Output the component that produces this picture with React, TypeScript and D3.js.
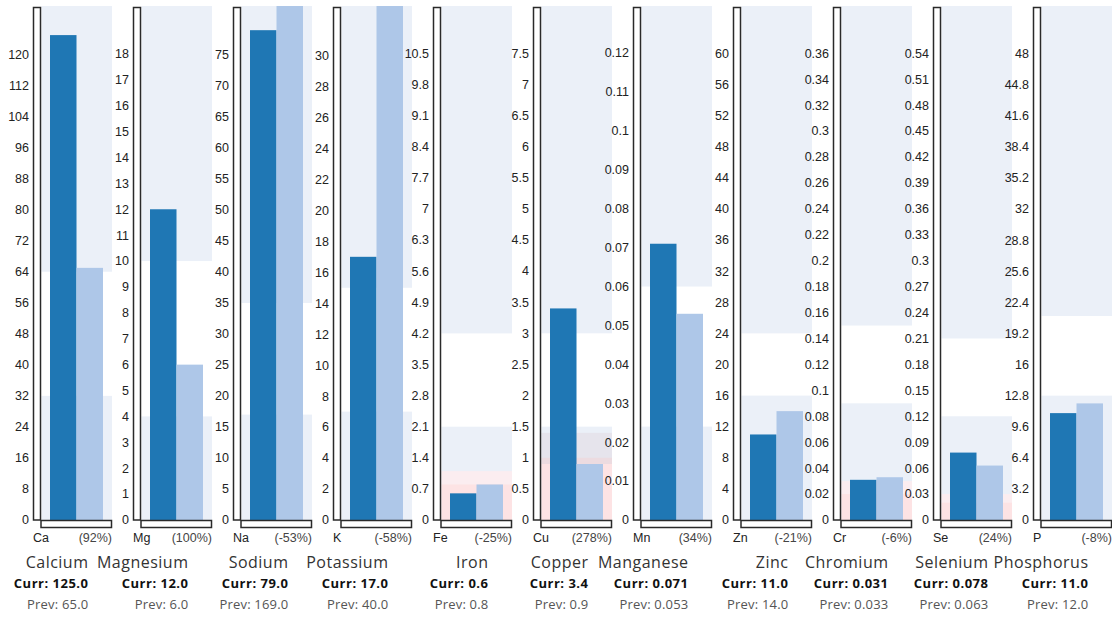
import React from "react";
import * as d3 from "d3";

const symbols = ["Ca", "Mg", "Na", "K", "Fe", "Cu", "Mn", "Zn", "Cr", "Se", "P"];
const names = ["Calcium", "Magnesium", "Sodium", "Potassium", "Iron", "Copper", "Manganese", "Zinc", "Chromium", "Selenium", "Phosphorus"];
const currValues = [125, 12, 79, 17, 0.6, 3.4, 0.071, 11, 0.031, 0.078, 11];
const prevValues = [65, 6, 169, 40, 0.8, 0.9, 0.053, 14, 0.033, 0.063, 12];
const domainMax = [132.5, 19.85, 82.9, 33.2, 11.57, 8.26, 0.1321, 66.1, 0.3965, 0.5947, 52.9];
const tickSteps = [8, 1, 5, 2, 0.7, 0.5, 0.01, 4, 0.02, 0.03, 3.2];
const tickCounts = [15, 18, 15, 15, 15, 15, 12, 15, 18, 18, 15];
const refLow = [32, 4, 17, 7, 2.1, 1.5, 0.024, 16, 0.09, 0.12, 12.8];
const refHigh = [64, 10, 35, 15, 4.2, 3.0, 0.06, 24, 0.15, 0.21, 21];
const grayBand = [0, 0, 0, 0, 0, 1.4, 0, 0, 0, 0, 0];
const lightPinkBand = [0, 0, 0, 0, 1.1, 0, 0, 0, 0.03, 0.03, 0];
const mauveBand = [0, 0, 0, 0, 0, 1.0, 0, 0, 0, 0, 0];
const pinkBand = [0, 0, 0, 0, 0.8, 0.9, 0, 0, 0.02, 0.02, 0];

const PANEL_W = 100;
const TOP = 6;
const ZERO = 520;
const PLOT_L = 41;
const PLOT_R = 112;

const COLORS = {
  range: "#ebf0f8",
  gray: "#e6e4ec",
  lightPink: "#fbedf0",
  mauve: "#ecdbe0",
  pink: "#fde3e4",
  curr: "#1f77b4",
  prev: "#aec7e8",
};

const fmtVal = (v: number) => (v < 0.1 ? v.toFixed(3) : v.toFixed(1));
const fmtTick = (v: number) => String(+v.toFixed(4));

function Panel({ i }: { i: number }) {
  const ox = i * PANEL_W;
  const y = d3.scaleLinear().domain([0, domainMax[i]]).range([ZERO, TOP]);
  const x = d3
    .scaleBand<string>()
    .domain(["curr", "prev"])
    .range([PLOT_L + ox, PLOT_R + ox])
    .paddingInner(0)
    .paddingOuter(0.34);
  const ticks = d3.range(tickCounts[i] + 1).map((k) => k * tickSteps[i]);
  const yc = (v: number) => Math.max(TOP, y(v));
  const raw = ((currValues[i] - prevValues[i]) / prevValues[i]) * 100;
  const pct = Math.sign(raw) * Math.round(Math.abs(raw) + 1e-9);
  const bandL = PLOT_L + ox + 0.5;
  const bandW = PLOT_R - PLOT_L - 0.5;
  const lowBand = (v: number, color: string) =>
    v > 0 ? <rect x={bandL} y={y(v)} width={bandW} height={ZERO - y(v)} fill={color} /> : null;
  return (
    <g>
      <rect x={bandL} y={TOP} width={bandW} height={yc(refHigh[i]) - TOP} fill={COLORS.range} />
      {lowBand(refLow[i], COLORS.range)}
      {lowBand(grayBand[i], COLORS.gray)}
      {lowBand(lightPinkBand[i], COLORS.lightPink)}
      {lowBand(mauveBand[i], COLORS.mauve)}
      {lowBand(pinkBand[i], COLORS.pink)}
      <rect x={x("curr")} y={yc(currValues[i])} width={x.bandwidth()} height={ZERO - yc(currValues[i])} fill={COLORS.curr} />
      <rect x={x("prev")} y={yc(prevValues[i])} width={x.bandwidth()} height={ZERO - yc(prevValues[i])} fill={COLORS.prev} />
      <rect x={33.5 + ox} y={7.5} width={7} height={ZERO - 7.5} fill="#fff" stroke="#2a2a2a" strokeWidth={1.5} />
      <rect x={41 + ox} y={ZERO + 0.5} width={PLOT_R - PLOT_L - 0.5} height={7} fill="#fff" stroke="#2a2a2a" strokeWidth={1.5} />
      {ticks.map((t, k) => (
        <text
          key={k}
          x={29 + ox}
          y={y(t)}
          dy="0.35em"
          textAnchor="end"
          fontFamily="'Liberation Sans', Arial, sans-serif"
          fontSize={12.5}
          fill="#222"
        >
          {fmtTick(t)}
        </text>
      ))}
      <text x={33 + ox} y={542} fontFamily="'Liberation Sans', Arial, sans-serif" fontSize={12.5} fill="#222">
        {symbols[i]}
      </text>
      <text x={112 + ox} y={542} textAnchor="end" fontFamily="'Liberation Sans', Arial, sans-serif" fontSize={12.5} fill="#444">
        {`(${pct}%)`}
      </text>
      <text x={88.5 + ox} y={567.5} textAnchor="end" fontFamily="'Open Sans', sans-serif" fontSize={16} letterSpacing={0.5} fill="#333">
        {names[i]}
      </text>
      <text x={88.5 + ox} y={587.5} textAnchor="end" fontFamily="'Open Sans', sans-serif" fontSize={13} letterSpacing={0.5} fontWeight="bold" fill="#111">
        {`Curr: ${fmtVal(currValues[i])}`}
      </text>
      <text x={88.5 + ox} y={608.5} textAnchor="end" fontFamily="'Open Sans', sans-serif" fontSize={13} letterSpacing={0.2} fill="#555">
        {`Prev: ${fmtVal(prevValues[i])}`}
      </text>
    </g>
  );
}

export default function App() {
  return (
    <svg width={1112} height={619} style={{ position: "absolute", left: 0, top: 0, background: "#fff" }}>
      {symbols.map((_, i) => (
        <Panel key={i} i={i} />
      ))}
    </svg>
  );
}
